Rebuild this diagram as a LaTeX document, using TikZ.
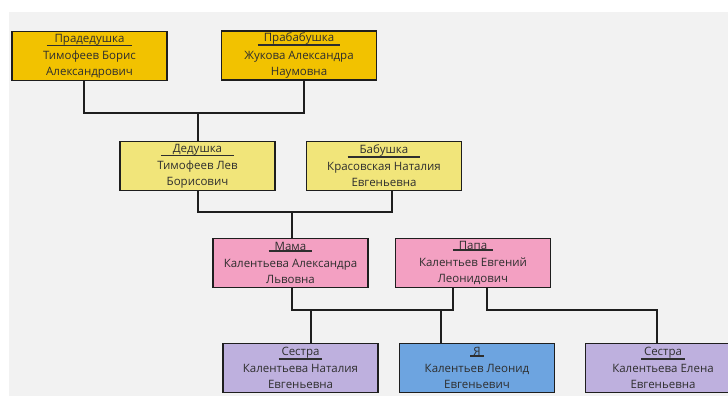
\documentclass[tikz,border=0pt]{standalone}
\usepackage{fontspec}
\setmainfont{Open Sans}
\definecolor{canvas}{HTML}{F2F2F2}
\definecolor{wire}{HTML}{1E1E1E}
\definecolor{gold}{HTML}{F2C200}
\definecolor{sand}{HTML}{F1E57A}
\definecolor{rose}{HTML}{F3A0C2}
\definecolor{lilac}{HTML}{BEB0DE}
\definecolor{sky}{HTML}{6DA4E0}
% title with a thick rule beneath it
\newcommand\ttl[2][5pt]{\setbox0=\hbox{#2}\vtop{\hbox to \dimexpr\wd0+2\dimexpr#1\relax\relax{\hfil\box0\hfil}\kern-0.3pt\hrule height 1.9pt}}
\tikzset{
  person/.style={draw=wire, line width=1.8pt, minimum width=155pt, minimum height=49pt,
    inner sep=0pt, align=center, text=black!82,
    font=\fontsize{11.5}{16}\selectfont},
  link/.style={draw=wire, line width=2pt},
}
\begin{document}
\begin{tikzpicture}[x=1pt,y=1pt]
\useasboundingbox (0,0) rectangle (728,-396);
\clip (0,0) rectangle (728,-396);
\fill[canvas] (9,-12) rectangle (728,-396);

% generation 1
\node[person, fill=gold] (pd) at (89.5,-56) {\ttl[8pt]{Прадедушка}\\[1.2pt]Тимофеев Борис\\Александрович};
\node[person, fill=gold] (pb) at (299,-55.5) {\ttl[6pt]{Прабабушка}\\[1.2pt]Жукова Александра\\Наумовна};
% generation 2
\node[person, fill=sand] (dd) at (197.5,-166) {\ttl[12pt]{Дедушка}\\[1.2pt]Тимофеев Лев\\Борисович};
\node[person, fill=sand] (bb) at (384,-166) {\ttl[12pt]{Бабушка}\\[1.2pt]Красовская Наталия\\Евгеньевна};
% generation 3
\node[person, fill=rose] (mama) at (290.5,-263) {\ttl[6pt]{Мама}\\[1.2pt]Калентьева Александра\\Львовна};
\node[person, fill=rose] (papa) at (473,-263) {\ttl[6pt]{Папа}\\[1.2pt]Калентьев Евгений\\Леонидович};
% generation 4
\node[person, fill=lilac] (s1) at (300.5,-368) {\ttl[3pt]{Сестра}\\[1.2pt]Калентьева Наталия\\Евгеньевна};
\node[person, fill=sky] (me) at (477,-368) {\ttl[3pt]{Я}\\[1.2pt]Калентьев Леонид\\Евгеньевич};
\node[person, fill=lilac] (s2) at (663,-368) {\ttl[3pt]{Сестра}\\[1.2pt]Калентьева Елена\\Евгеньевна};

% junction points
\coordinate (j1) at (197.5,-113);
\coordinate (j2) at (291.5,-211.5);
\coordinate (j3) at (311,-310);
\coordinate (j4) at (441,-310);
\coordinate (j5) at (657,-310);

% connectors
\draw[link] ([xshift=-5.5pt]pd.south) |- (j1) -| ([xshift=5pt]pb.south);
\draw[link] (j1) -- (dd.north);
\draw[link] (dd.south) |- (j2) -| ([xshift=8pt]bb.south);
\draw[link] (j2) -- (mama.north -| j2);
\draw[link] ([xshift=1pt]mama.south) |- (j3) -| ([xshift=-20pt]papa.south);
\draw[link] (j3) -- (s1.north -| j3);
\draw[link] (j4) -- (me.north -| j4);
\draw[link] ([xshift=14pt]papa.south) |- (j5) -- (s2.north -| j5);
\end{tikzpicture}
\end{document}
